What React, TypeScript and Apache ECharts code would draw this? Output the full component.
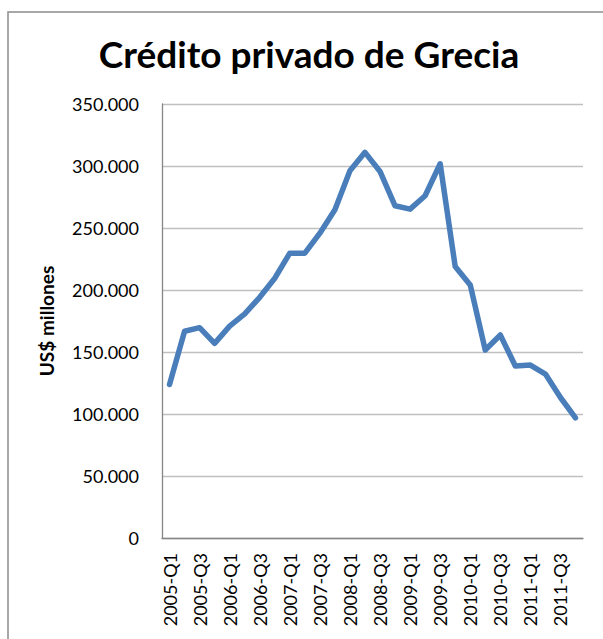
import React, { useEffect, useRef } from "react";
import * as echarts from "echarts";

const TITLE = "Crédito privado de Grecia";
const Y_NAME = "US$ millones";
const YEARS = ["2005", "2006", "2007", "2008", "2009", "2010", "2011"];
const QUARTERS = ["Q1", "Q2", "Q3", "Q4"];
const categories: string[] = [];
YEARS.forEach((y) => QUARTERS.forEach((q) => categories.push(`${y}-${q}`)));

const credit = [
  123800, 166700, 169600, 157000, 170900, 180700, 194100, 209500,
  229700, 229700, 245800, 264700, 296200, 311000, 295600, 267900,
  265200, 276000, 301800, 218900, 204100, 151600, 163700, 138700,
  139500, 132200, 113300, 96900,
];

const fmt = (v: number) =>
  v === 0 ? "0" : String(v).replace(/\B(?=(\d{3})+(?!\d))/g, ".");

export default function App() {
  const ref = useRef<HTMLDivElement>(null);
  useEffect(() => {
    if (!ref.current) return;
    const chart = echarts.init(ref.current, null, { renderer: "svg" });
    chart.setOption({
      animation: false,
      backgroundColor: "#ffffff",
      graphic: [
        {
          type: "rect",
          shape: { x: 8, y: 12, width: 800, height: 800 },
          style: { fill: "none", stroke: "#8c8c8c", lineWidth: 1.5 },
          silent: true,
        },
      ],
      title: {
        text: TITLE,
        left: 304,
        top: 30,
        textAlign: "center",
        textStyle: {
          fontFamily: "Lato",
          fontWeight: "bold",
          fontSize: 37,
          color: "#000000",
        },
      },
      grid: { left: 162, right: 20, top: 104, bottom: 101, containLabel: false },
      xAxis: {
        type: "category",
        data: categories,
        boundaryGap: true,
        axisLine: { lineStyle: { color: "#868686", width: 1.3 } },
        axisTick: { show: false },
        axisLabel: {
          interval: 1,
          rotate: 90,
          margin: 15,
          fontFamily: "Lato",
          fontSize: 18,
          color: "#000000",
        },
      },
      yAxis: {
        type: "value",
        min: 0,
        max: 350000,
        interval: 50000,
        name: Y_NAME,
        nameLocation: "middle",
        nameGap: 106,
        nameRotate: 90,
        nameTextStyle: {
          fontFamily: "Lato",
          fontWeight: "bold",
          fontSize: 19,
          color: "#000000",
        },
        axisLine: { show: true, lineStyle: { color: "#868686", width: 1.3 } },
        axisTick: { show: false },
        splitLine: { lineStyle: { color: "#c0c0c0", width: 1.3 } },
        axisLabel: {
          formatter: fmt,
          margin: 23,
          fontFamily: "Lato",
          fontSize: 18,
          color: "#000000",
        },
      },
      series: [
        {
          type: "line",
          data: credit,
          showSymbol: false,
          symbol: "none",
          lineStyle: { color: "#4a7ebb", width: 5.5, cap: "round", join: "round" },
        },
      ],
    });
    return () => chart.dispose();
  }, []);
  return (
    <div
      ref={ref}
      style={{ position: "fixed", left: 0, top: 0, width: 603, height: 639 }}
    />
  );
}
